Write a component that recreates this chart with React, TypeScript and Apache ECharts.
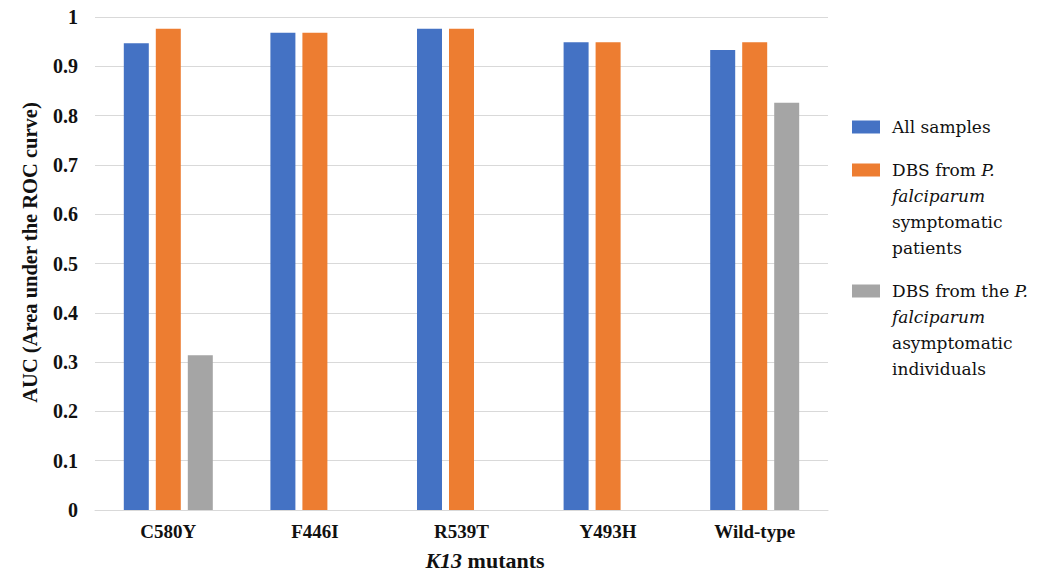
import React, { useEffect, useRef } from "react";
import * as echarts from "echarts";

const categories = ["C580Y", "F446I", "R539T", "Y493H", "Wild-type"];
const allSamples = [0.947, 0.968, 0.976, 0.949, 0.933];
const symptomatic = [0.976, 0.968, 0.976, 0.949, 0.949];
const asymptomatic = [0.314, null, null, null, 0.826];
const seriesNames = [
  "All samples",
  "DBS from P. falciparum symptomatic patients",
  "DBS from the P. falciparum asymptomatic individuals",
];
const legendLabels = [
  "All samples",
  "DBS from {i|P.}\n{i|falciparum}\nsymptomatic\npatients",
  "DBS from the {i|P.}\n{i|falciparum}\nasymptomatic\nindividuals",
];

const BOLD = "'Liberation Serif', 'Times New Roman', serif";
const LEG = "'DejaVu Serif', serif";

export default function App() {
  const ref = useRef<HTMLDivElement>(null);
  useEffect(() => {
    document.body.style.margin = "0";
    const chart = echarts.init(ref.current!, null, { renderer: "svg" });
    const legendText = {
      fontFamily: LEG,
      fontSize: 17,
      color: "#111",
      lineHeight: 26,
      padding: [0, 0, 0, 7],
      rich: {
        i: { fontFamily: LEG, fontSize: 17, fontStyle: "italic", color: "#111", lineHeight: 26 },
      },
    };
    const tallIcon = "path://M0,0 M0,6.5 L28,6.5 L28,19.5 L0,19.5 Z M0,104";
    chart.setOption({
      animation: false,
      grid: {
        left: 95,
        right: 211,
        top: 17,
        bottom: 62,
        containLabel: false,
        outerBoundsMode: "none",
      },
      legend: [
        {
          data: [seriesNames[0]],
          left: 852,
          top: 114,
          padding: 0,
          orient: "vertical",
          itemWidth: 28,
          itemHeight: 13,
          icon: "rect",
          selectedMode: false,
          formatter: () => legendLabels[0],
          textStyle: legendText,
        },
        {
          data: [seriesNames[1]],
          left: 852,
          top: 157,
          padding: 0,
          orient: "vertical",
          itemWidth: 28,
          itemHeight: 104,
          icon: tallIcon,
          symbolKeepAspect: false,
          selectedMode: false,
          formatter: () => legendLabels[1],
          textStyle: legendText,
        },
        {
          data: [seriesNames[2]],
          left: 852,
          top: 278,
          padding: 0,
          orient: "vertical",
          itemWidth: 28,
          itemHeight: 104,
          icon: tallIcon,
          symbolKeepAspect: false,
          selectedMode: false,
          formatter: () => legendLabels[2],
          textStyle: legendText,
        },
      ],
      xAxis: {
        type: "category",
        data: categories,
        axisTick: { show: false },
        axisLine: { show: true, lineStyle: { color: "#d9d9d9", width: 1 } },
        axisLabel: {
          margin: 12,
          fontFamily: BOLD,
          fontWeight: "bold",
          fontSize: 19,
          color: "#111",
        },
        name: "{i|K13} mutants",
        nameLocation: "middle",
        nameGap: 39,
        nameTextStyle: {
          fontFamily: BOLD,
          fontWeight: "bold",
          fontSize: 22,
          color: "#111",
          padding: [0, 0, 0, 47],
          rich: {
            i: { fontFamily: BOLD, fontWeight: "bold", fontStyle: "italic", fontSize: 22, color: "#111" },
          },
        },
      },
      yAxis: {
        type: "value",
        min: 0,
        max: 1,
        interval: 0.1,
        axisLine: { show: false },
        axisTick: { show: false },
        splitLine: { show: true, lineStyle: { color: "#d9d9d9", width: 1 } },
        axisLabel: {
          margin: 17,
          fontFamily: BOLD,
          fontWeight: "bold",
          fontSize: 20,
          color: "#111",
        },
        name: "AUC (Area under the ROC curve)",
        nameLocation: "middle",
        nameGap: 55,
        nameTextStyle: {
          fontFamily: BOLD,
          fontWeight: "bold",
          fontSize: 20.5,
          color: "#111",
          padding: [0, 0, 0, 22],
        },
      },
      series: [
        {
          name: seriesNames[0],
          type: "bar",
          data: allSamples,
          barWidth: 25,
          barGap: "28%",
          itemStyle: { color: "#4472C4" },
        },
        {
          name: seriesNames[1],
          type: "bar",
          data: symptomatic,
          barWidth: 25,
          barGap: "28%",
          itemStyle: { color: "#ED7D31" },
        },
        {
          name: seriesNames[2],
          type: "bar",
          data: asymptomatic,
          barWidth: 25,
          barGap: "28%",
          itemStyle: { color: "#A5A5A5" },
        },
      ],
    });
    return () => chart.dispose();
  }, []);
  return <div ref={ref} style={{ width: 1039, height: 572 }} />;
}
